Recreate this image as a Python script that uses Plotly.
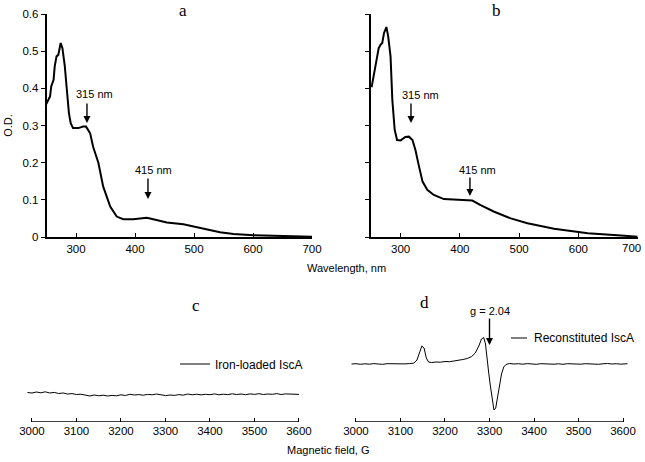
import plotly.graph_objects as go

# ---------------- data ----------------
uv_a_nm = [249, 256, 258, 262, 264, 267, 270, 274, 277, 281, 284, 288, 291, 295, 304, 312, 317, 324, 329,
           338, 346, 358, 369, 380, 397, 411, 420, 431, 454, 482, 505, 522, 544, 567, 601, 651, 700]
uv_a_od = [0.356, 0.378, 0.405, 0.423, 0.46, 0.486, 0.49, 0.522, 0.508, 0.46, 0.405, 0.333, 0.306, 0.293,
           0.293, 0.297, 0.297, 0.279, 0.243, 0.199, 0.136, 0.082, 0.055, 0.048, 0.048, 0.05, 0.052, 0.048,
           0.039, 0.034, 0.026, 0.019, 0.013, 0.008, 0.005, 0.003, 0.001]

uv_b_nm = [251, 255, 258, 261, 263, 266, 269, 272, 276, 279, 283, 286, 290, 294, 300, 308, 314, 320, 325,
           331, 337, 345, 356, 373, 390, 407, 421, 435, 458, 486, 514, 559, 616, 672, 700]
uv_b_od = [0.403, 0.44, 0.459, 0.486, 0.508, 0.517, 0.522, 0.549, 0.565, 0.54, 0.486, 0.369, 0.288, 0.261,
           0.26, 0.269, 0.27, 0.261, 0.234, 0.19, 0.149, 0.127, 0.113, 0.102, 0.1, 0.1, 0.098, 0.086, 0.068,
           0.05, 0.037, 0.022, 0.01, 0.004, 0.001]

epr_c_field = [2990, 3000, 3010, 3020, 3030, 3040, 3050, 3060, 3070, 3080, 3090, 3100, 3110, 3120, 3130,
               3140, 3150, 3160, 3170, 3180, 3190, 3200, 3210, 3220, 3230, 3240, 3250, 3260, 3270, 3280,
               3290, 3300, 3310, 3320, 3330, 3340, 3350, 3360, 3370, 3380, 3390, 3400, 3410, 3420, 3430,
               3440, 3450, 3460, 3470, 3480, 3490, 3500, 3510, 3520, 3530, 3540, 3550, 3560, 3570, 3580,
               3590, 3600]
epr_c_signal = [1.5, 1.0, 2.0, 1.2, 2.2, 1.0, 1.6, 0.5, 1.0, 0.0, 0.4, -0.5, -0.2, -1.2, -2.0,
                -1.0, -1.8, -1.2, -2.0, -1.4, -1.8, -0.8, -1.5, -0.3, -1.0, -0.6, -1.2, -0.4, -0.8, 0.0,
                -0.6, -1.6, -1.0, -1.4, -0.6, -1.2, 0.0, -0.8, -0.2, -0.9, -0.3, -0.7, 0.1, -0.8, -0.2,
                -0.6, 0.2, -0.5, 0.0, -0.7, 0.1, -0.4, 0.3, -0.5, 0.0, -0.3, 0.4, -0.5, 0.1, -0.3,
                -0.6, -0.4]

epr_d_field = [2990, 3000, 3010, 3020, 3030, 3040, 3050, 3060, 3070, 3080, 3090, 3100, 3110, 3120, 3130,
               3137, 3142, 3148, 3153, 3158, 3163, 3170, 3180, 3190, 3200, 3210, 3220, 3230, 3240, 3250,
               3260, 3268, 3276, 3282, 3287, 3291, 3294, 3298, 3302, 3306, 3310, 3314, 3318, 3322, 3327,
               3332, 3337, 3345, 3355, 3365, 3375, 3385, 3395, 3405, 3415, 3425, 3435, 3445, 3455, 3465,
               3475, 3485, 3495, 3505, 3515, 3525, 3535, 3545, 3555, 3565, 3575, 3585, 3595, 3605, 3610]
epr_d_signal = [0, 0.3, -0.3, 0.2, -0.2, 0.4, 0, -0.3, 0.3, 0.1, -0.2, 0.3, 0.1, 0.4, 0.8,
                4, 10, 18, 16, 6, 2, 1.5, 2, 1.8, 2.5, 2.3, 3, 3.5, 4.5, 5.5,
                7.5, 11, 18, 25, 26.5, 20, 5, -8, -22, -35, -46, -44, -34, -22, -10,
                -3, -0.5, 0.5, 0, 0.3, -0.2, 0.4, 0, -0.3, 0.3, 0, 0.4, -0.2, 0.2, -0.3,
                0.3, 0, 0.4, -0.2, 0.3, 0, 0.4, -0.3, 0.2, 0.5, 0, 0.3, -0.2, 0.4, 0.3]

uv_ticks = [300, 400, 500, 600, 700]
uv_labels_a = ["300", "400", "500", "600", "700"]
uv_labels_b = ["300", "400", "500", "600", ""]   # last label placed separately (kept inside the page)
od_ticks = [0, 0.1, 0.2, 0.3, 0.4, 0.5, 0.6]
od_labels = ["0", "0.1", "0.2", "0.3", "0.4", "0.5", "0.6"]
field_ticks = [3000, 3100, 3200, 3300, 3400, 3500, 3600]

W, H = 645, 462
SANS = "Liberation Sans, Arial, sans-serif"
SERIF = "Liberation Serif, Times New Roman, serif"


def px(x):
    return x / W


def py(y):
    return 1 - y / H


fig = go.Figure()
fig.add_trace(go.Scatter(x=uv_a_nm, y=uv_a_od, mode="lines", line=dict(color="black", width=2),
                         xaxis="x", yaxis="y", showlegend=False))
fig.add_trace(go.Scatter(x=uv_b_nm, y=uv_b_od, mode="lines", line=dict(color="black", width=2),
                         xaxis="x2", yaxis="y2", showlegend=False))
fig.add_trace(go.Scatter(x=epr_c_field, y=epr_c_signal, mode="lines", name="Iron-loaded IscA",
                         line=dict(color="black", width=1), xaxis="x3", yaxis="y3", legend="legend"))
fig.add_trace(go.Scatter(x=epr_d_field, y=epr_d_signal, mode="lines", name="Reconstituted IscA",
                         line=dict(color="black", width=1), xaxis="x4", yaxis="y4", showlegend=False))

tickfont = dict(family=SANS, size=11.5, color="black")
uv_x = dict(range=[250, 700], tickvals=uv_ticks, ticks="inside", ticklen=4, tickwidth=1.2,
            tickcolor="black", showline=True, linecolor="black", linewidth=1.5, showgrid=False,
            zeroline=False, tickfont=tickfont, ticklabeloverflow="allow")
uv_y = dict(range=[0, 0.6], tickvals=od_ticks, ticktext=od_labels, ticks="outside", ticklen=4,
            tickwidth=1.2, tickcolor="black", showline=True, linecolor="black", linewidth=1.5,
            showgrid=False, zeroline=False, tickfont=tickfont)
ep_x = dict(tickvals=field_ticks, ticks="inside", ticklen=4, tickwidth=1.2, tickcolor="black",
            showline=False, showgrid=False, zeroline=False, tickfont=tickfont, ticklabeloverflow="allow")
ep_y = dict(visible=False, showgrid=False, zeroline=False)

fig.update_layout(
    template="none",
    width=W, height=H, margin=dict(l=0, r=0, t=0, b=0, autoexpand=False),
    paper_bgcolor="white", plot_bgcolor="white",
    xaxis=dict(uv_x, ticktext=uv_labels_a, domain=[px(46.5), px(312)], anchor="y"),
    yaxis=dict(uv_y, domain=[py(237), py(14)], anchor="x",
               title=dict(text="O.D.", font=dict(family=SANS, size=11, color="black"), standoff=8)),
    xaxis2=dict(uv_x, ticktext=uv_labels_b, domain=[px(371), px(637.6)], anchor="y2"),
    yaxis2=dict(uv_y, domain=[py(237), py(14)], anchor="x2", showticklabels=False),
    xaxis3=dict(ep_x, range=[2985, 3612], domain=[px(25.3), px(304.3)], anchor="y3"),
    yaxis3=dict(ep_y, range=[-28, 104], domain=[py(422), py(290)], anchor="x3"),
    xaxis4=dict(ep_x, range=[2985, 3615], domain=[px(349.3), px(629.7)], anchor="y4"),
    yaxis4=dict(ep_y, range=[-58, 74], domain=[py(422), py(290)], anchor="x4"),
    legend=dict(x=px(175), y=py(364), xanchor="left", yanchor="middle", bgcolor="rgba(0,0,0,0)",
                font=dict(family=SANS, size=12, color="black"), itemwidth=30),
    font=dict(family=SANS, color="black"),
)

# axis lines for EPR panels span 3000-3600 only
fig.add_shape(type="line", xref="x3", yref="y3", x0=3000, x1=3600, y0=-28, y1=-28,
              line=dict(color="black", width=1.5))
fig.add_shape(type="line", xref="x4", yref="y4", x0=3000, x1=3600, y0=-58, y1=-58,
              line=dict(color="black", width=1.5))
# legend key for panel d
fig.add_shape(type="line", xref="paper", yref="paper", x0=px(511), x1=px(527), y0=py(338), y1=py(338),
              line=dict(color="black", width=1))

ann = []
# panel letters
for txt, x, y in [("a", 183, 10), ("b", 496, 10), ("c", 196, 305), ("d", 424, 302)]:
    ann.append(dict(text=txt, x=px(x), y=py(y), xref="paper", yref="paper", showarrow=False,
                    xanchor="center", yanchor="middle",
                    font=dict(family=SERIF, size=17, color="black")))
# axis titles
ann.append(dict(text="Wavelength, nm", x=px(346), y=py(268), xref="paper", yref="paper",
                xanchor="center", yanchor="middle",
                showarrow=False, font=dict(family=SANS, size=11, color="black")))
ann.append(dict(text="Magnetic field, G", x=px(329), y=py(450), xref="paper", yref="paper",
                xanchor="center", yanchor="middle",
                showarrow=False, font=dict(family=SANS, size=11, color="black")))
# last tick label of panel b, nudged left to stay on the page
ann.append(dict(text=str(uv_ticks[-1]), x=uv_ticks[-1], y=py(248), xref="x2", yref="paper",
                xanchor="right", yanchor="middle", xshift=5,
                showarrow=False, font=tickfont))
# legend text for panel d
ann.append(dict(text="Reconstituted IscA", x=px(532), y=py(338), xref="paper", yref="paper",
                xanchor="left", yanchor="middle",
                showarrow=False, font=dict(family=SANS, size=12, color="black")))

arrow = dict(showarrow=True, arrowhead=2, arrowsize=1, arrowwidth=1.4, arrowcolor="black", text="", ax=0)
# panel a
ann.append(dict(arrow, x=318.6, y=0.307, xref="x", yref="y", ay=-21))
ann.append(dict(arrow, x=422, y=0.102, xref="x", yref="y", ay=-22))
ann.append(dict(text="315 nm", x=332, y=0.385, xref="x", yref="y", showarrow=False,
                font=dict(family=SANS, size=11, color="black")))
ann.append(dict(text="415 nm", x=432, y=0.180, xref="x", yref="y", showarrow=False,
                font=dict(family=SANS, size=11, color="black")))
# panel b
ann.append(dict(arrow, x=317.5, y=0.307, xref="x2", yref="y2", ay=-21))
ann.append(dict(arrow, x=417, y=0.110, xref="x2", yref="y2", ay=-20))
ann.append(dict(text="315 nm", x=332.7, y=0.382, xref="x2", yref="y2", showarrow=False,
                font=dict(family=SANS, size=11, color="black")))
ann.append(dict(text="415 nm", x=430, y=0.180, xref="x2", yref="y2", showarrow=False,
                font=dict(family=SANS, size=11, color="black")))
# panel d
ann.append(dict(arrow, x=3300, y=19, xref="x4", yref="y4", ay=-28))
ann.append(dict(text="g = 2.04", x=3300, y=53, xref="x4", yref="y4", showarrow=False,
                font=dict(family=SANS, size=11, color="black")))
fig.update_layout(annotations=ann)

fig.write_html("out.html", config={"displayModeBar": False},
               post_script="document.body.style.margin='0';document.body.style.overflow='hidden';")
